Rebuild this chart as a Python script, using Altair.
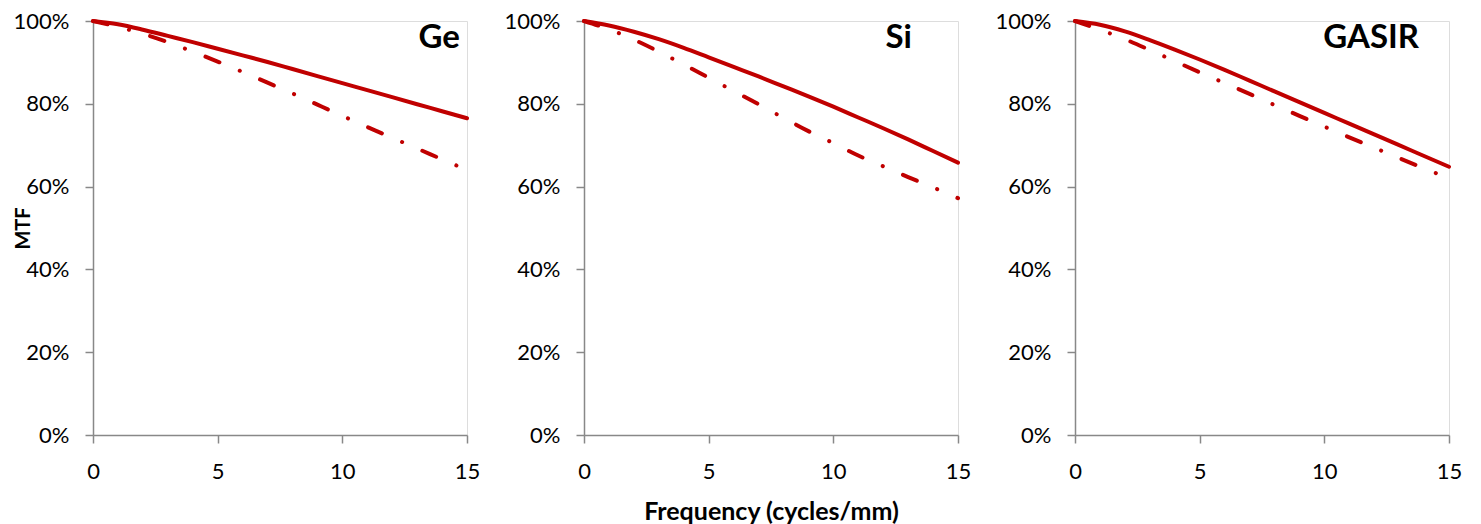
import altair as alt
import pandas as pd

freq = list(range(16))

ge_solid = [100, 99.2, 97.9, 96.4, 94.9, 93.3, 91.7, 90.1, 88.4, 86.7, 85.0, 83.3, 81.6, 79.9, 78.2, 76.5]
ge_dash = [100, 98.6, 96.9, 94.9, 92.6, 90.2, 87.7, 85.1, 82.5, 79.8, 77.1, 74.4, 71.8, 69.2, 66.6, 64.0]
si_solid = [100, 98.9, 97.4, 95.6, 93.5, 91.2, 88.9, 86.6, 84.2, 81.8, 79.3, 76.7, 74.1, 71.4, 68.6, 65.8]
si_dash = [100, 98.0, 95.5, 92.6, 89.5, 86.3, 83.1, 79.9, 76.6, 73.4, 70.5, 67.5, 64.9, 62.3, 59.8, 57.2]
gasir_solid = [100, 99.1, 97.5, 95.4, 93.1, 90.7, 88.2, 85.6, 83.0, 80.4, 77.8, 75.2, 72.6, 70.0, 67.4, 64.8]
gasir_dash = [100, 97.9, 95.6, 93.0, 90.3, 87.6, 85.0, 82.4, 79.7, 77.1, 74.5, 71.9, 69.4, 66.9, 64.4, 62.0]

materials = ["Ge", "Si", "GASIR"]
series = {
    "Ge": (ge_solid, ge_dash),
    "Si": (si_solid, si_dash),
    "GASIR": (gasir_solid, gasir_dash),
}

rows = []
for m in materials:
    s, d = series[m]
    for f, v in zip(freq, s):
        rows.append({"material": m, "kind": "solid", "freq": f, "mtf": v / 100})
    for f, v in zip(freq, d):
        rows.append({"material": m, "kind": "dash", "freq": f, "mtf": v / 100})
df = pd.DataFrame(rows)

RED = "#C00000"
AXIS_GRAY = "#888888"
FONT = "Lato"
W, H = 374, 414

label_pos = {"Ge": 367, "Si": 328, "GASIR": 344}


def panel(name, y_title, x_title):
    d = df[df["material"] == name]
    x_axis_kwargs = dict(
        values=[0, 5, 10, 15], format="d", tickSize=8, labelPadding=18, labelFlush=False,
        labelFontSize=22, labelFont=FONT, labelColor="#000000",
        domainColor=AXIS_GRAY, tickColor=AXIS_GRAY, domainWidth=1.5, tickWidth=1.5,
        grid=False, titleFont=FONT, titleFontSize=25, titleFontWeight="bold",
        titleColor="#000000", titlePadding=17,
    )
    if x_title:
        x_axis_kwargs["title"] = x_title
    else:
        x_axis_kwargs["title"] = None
    y_axis_kwargs = dict(
        values=[0, 0.2, 0.4, 0.6, 0.8, 1.0], format=".0%", tickSize=8, labelPadding=16,
        labelFlush=False,
        labelFontSize=22, labelFont=FONT, labelColor="#000000",
        domainColor=AXIS_GRAY, tickColor=AXIS_GRAY, domainWidth=1.5, tickWidth=1.5,
        grid=False, minExtent=84, maxExtent=84,
    )
    if y_title:
        y_axis_kwargs.update(title=y_title, titleFont=FONT, titleFontSize=20,
                             titleFontWeight="bold", titleColor="#000000",
                             titleX=-60, titleY=207, titleAngle=270)
    else:
        y_axis_kwargs["title"] = None

    x = alt.X("freq:Q", scale=alt.Scale(domain=[0, 15], nice=False), axis=alt.Axis(**x_axis_kwargs))
    y = alt.Y("mtf:Q", scale=alt.Scale(domain=[0, 1], nice=False), axis=alt.Axis(**y_axis_kwargs))

    base = alt.Chart(d)
    solid = base.transform_filter(alt.datum.kind == "solid").mark_line(
        color=RED, strokeWidth=4, strokeCap="round", interpolate="monotone"
    ).encode(x=x, y=y)
    dash = base.transform_filter(alt.datum.kind == "dash").mark_line(
        color=RED, strokeWidth=4, strokeCap="round", strokeDash=[15, 22, 0.1, 22],
        interpolate="monotone"
    ).encode(x=x, y=y)
    lab = alt.Chart(pd.DataFrame({"label": [name]})).mark_text(
        font=FONT, fontSize=33, fontWeight="bold", align="right", baseline="alphabetic",
        color="#000000"
    ).encode(text="label:N", x=alt.value(label_pos[name]), y=alt.value(27))
    return alt.layer(solid, dash, lab).properties(width=W, height=H)


chart = alt.hconcat(
    panel("Ge", "MTF", None),
    panel("Si", None, "Frequency (cycles/mm)"),
    panel("GASIR", None, None),
    spacing=18,
).properties(padding={"left": 0, "top": 1, "right": 0, "bottom": 0}).configure_view(
    stroke=None
).configure(background="white")

chart.save("out.html", embed_options={"renderer": "svg", "actions": False})
